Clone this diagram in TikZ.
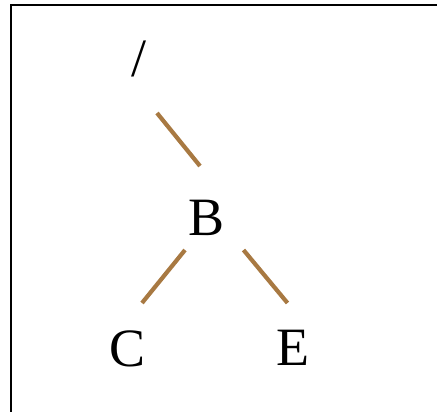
\documentclass[tikz,border=0pt]{standalone}
\usepackage{fontspec}
\setmainfont{Liberation Serif}
\definecolor{edgebrown}{RGB}{168,121,66}
\begin{document}
\begin{tikzpicture}[x=1pt,y=1pt,
  lbl/.style={inner sep=0pt,anchor=base,font=\fontsize{54}{60}\selectfont},
  edge/.style={draw=edgebrown,line width=4.2pt}]
\useasboundingbox (0,0) rectangle (437,-412);
\draw[line width=1.3pt] (11,-5) rectangle (460,-440);
\node[lbl] (root) at (139,-77) {/};
\node[lbl] (B) at (206.5,-235) {B};
\node[lbl] (C) at (127.5,-366) {C};
\node[lbl] (E) at (293,-365) {E};
\coordinate (r1) at (157,-113);
\coordinate (b1) at (200,-166);
\coordinate (b2) at (185,-250);
\coordinate (c1) at (142,-303);
\coordinate (b3) at (243.5,-250);
\coordinate (e1) at (287.5,-303);
\draw[edge] (r1) -- (b1);
\draw[edge] (b2) -- (c1);
\draw[edge] (b3) -- (e1);
\end{tikzpicture}
\end{document}
